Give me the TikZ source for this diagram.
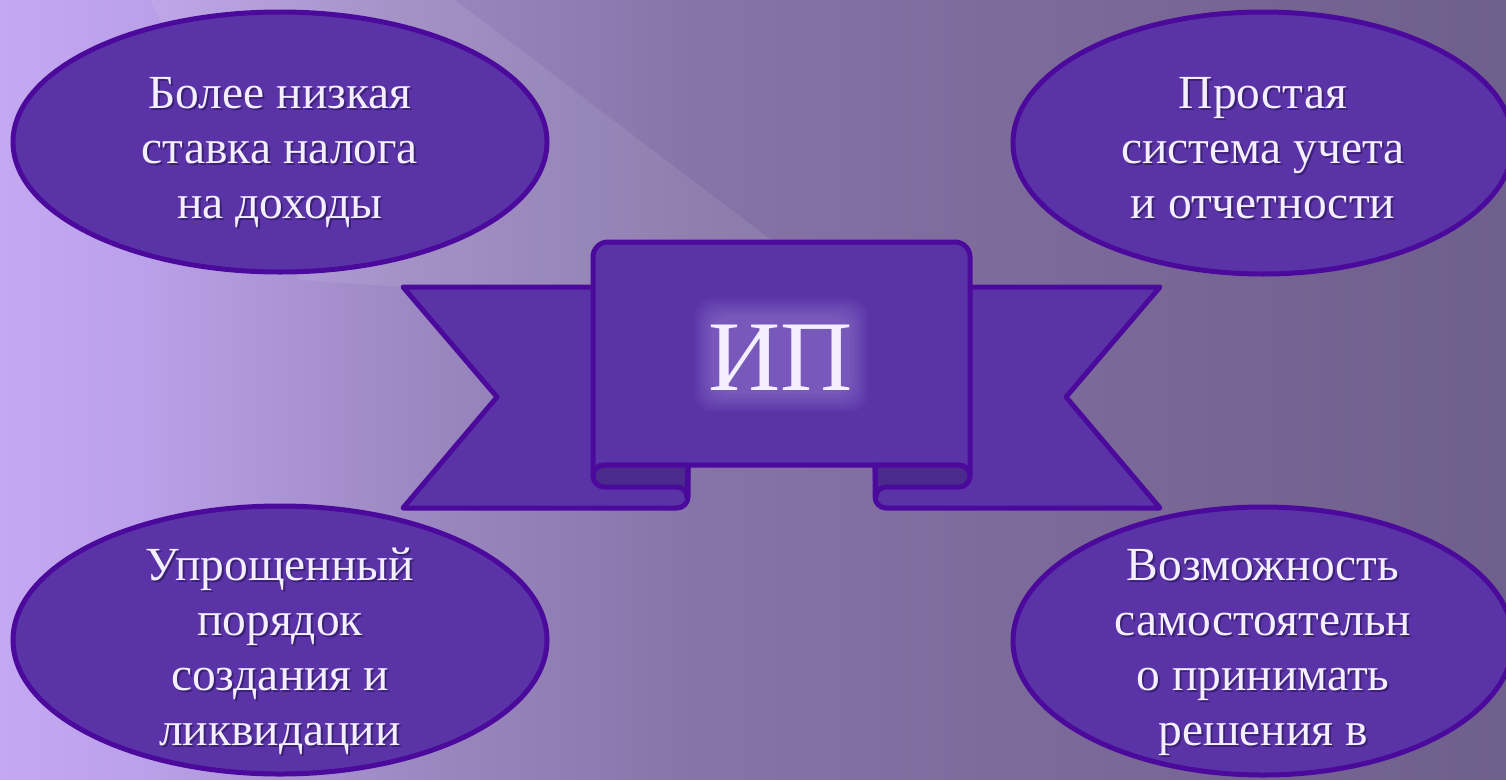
\documentclass[tikz,border=0pt]{standalone}
\usepackage{fontspec}
\setmainfont{Liberation Serif}
\usetikzlibrary{shapes.geometric}

\definecolor{plum}{HTML}{5A34A6}
\definecolor{rolldark}{HTML}{4A2A8C}
\definecolor{edge}{HTML}{4B0A9C}
\definecolor{ink}{HTML}{F4EFFF}
\definecolor{inkshadow}{HTML}{24104F}
\definecolor{halo}{HTML}{CDB9F7}

% path spans 25bp..75bp of the shading
\pgfdeclarehorizontalshading{bgshade}{100bp}{
	color(0bp)=(rgb,255:red,196;green,169;blue,242);
	color(25bp)=(rgb,255:red,196;green,169;blue,242);
	color(30bp)=(rgb,255:red,186;green,160;blue,232);
	color(38bp)=(rgb,255:red,158;green,138;blue,196);
	color(48bp)=(rgb,255:red,134;green,116;blue,168);
	color(58bp)=(rgb,255:red,125;green,107;blue,156);
	color(75bp)=(rgb,255:red,111;green,95;blue,140);
	color(100bp)=(rgb,255:red,111;green,95;blue,140)}

\tikzset{
	blob/.style={ellipse, draw=edge, fill=plum, line width=5pt, inner sep=0pt},
	band/.style={draw=edge, fill=plum, line width=5pt, line join=round},
	txt/.style={anchor=base, inner sep=0pt, text=ink, font=\fontsize{47.5}{55}\selectfont},
	txtshadow/.style={txt, text=inkshadow, opacity=0.55},
}

\begin{document}
\begin{tikzpicture}[x=1pt,y=1pt]
		\useasboundingbox (0,0) rectangle (1506,-779);
		\clip (0,0) rectangle (1506,-779);

		% background
		\shade[shading=bgshade] (0,0) rectangle (1506,-779);
		\fill[white, opacity=0.08] (150,0) -- (455,0) -- (800,-262) -- (593,-287) -- (403,-287) -- (300,-280) -- cycle;

		% four ellipses
		\node[blob, minimum width=534, minimum height=260] (tl) at (280,-142) {};
		\node[blob, minimum width=500, minimum height=262] (tr) at (1263,-143) {};
		\node[blob, minimum width=534, minimum height=268] (bl) at (280,-640) {};
		\node[blob, minimum width=500, minimum height=268] (br) at (1263,-641) {};

		% ribbon wings, left one and its mirror
		\foreach \s/\o in {1/0, -1/1563}{
		\begin{scope}[xshift=\o, xscale=\s]
				\path[band] (403,-287) -- (688,-287) -- (688,-497)
						arc[start angle=0, end angle=-90, radius=11] -- (403,-508) -- (497,-397) -- cycle;
		\end{scope}
		}

		% ribbon panel
		\path[band] (593,-476) -- (593,-257) arc[start angle=180, end angle=90, radius=15]
				-- (955,-242) arc[start angle=90, end angle=0, radius=15]
				-- (970,-476) arc[start angle=0, end angle=90, radius=11]
				-- (604,-465) arc[start angle=90, end angle=180, radius=11] -- cycle;

		% rolled ends
		\foreach \s/\o in {1/0, -1/1563}{
		\begin{scope}[xshift=\o, xscale=\s]
				\path[band, fill=rolldark] (688,-465) -- (604,-465)
						arc[start angle=90, end angle=270, radius=11] -- (677,-487)
						arc[start angle=90, end angle=0, radius=10] -- cycle;
		\end{scope}
		}

		% title with soft glow
		\foreach \g in {0,2.5,...,17.5}{
				\fill[halo, opacity=0.045, rounded corners=18] (712-\g,-316+\g) rectangle (850+\g,-394-\g);
		}
		\node[txt, font=\fontsize{100}{100}\selectfont] (title) at (781,-390) {ИП};

		% ellipse texts
		\foreach \t [count=\i] in {Более низкая, ставка налога, на доходы}{
				\node[txtshadow] at (282,{-110-55*(\i-1)}) {\t};
				\node[txt] (tl-\i) at (280,{-108-55*(\i-1)}) {\t};
		}
		\foreach \t [count=\i] in {Простая, система учета, и отчетности}{
				\node[txtshadow] at (1265,{-110-55*(\i-1)}) {\t};
				\node[txt] (tr-\i) at (1263,{-108-55*(\i-1)}) {\t};
		}
		\foreach \t [count=\i] in {Упрощенный, порядок, создания и, ликвидации}{
				\node[txtshadow] at (282,{-582-55*(\i-1)}) {\t};
				\node[txt] (bl-\i) at (280,{-580-55*(\i-1)}) {\t};
		}
		\foreach \t [count=\i] in {Возможность, самостоятельн, о принимать, решения в}{
				\node[txtshadow] at (1265,{-582-55*(\i-1)}) {\t};
				\node[txt] (br-\i) at (1263,{-580-55*(\i-1)}) {\t};
		}
\end{tikzpicture}
\end{document}
